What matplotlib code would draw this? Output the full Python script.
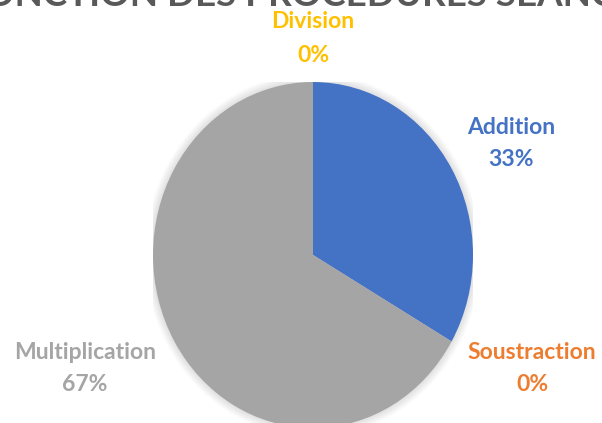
import matplotlib.pyplot as plt
from matplotlib.patches import Ellipse

# Données
categories = ['Addition', 'Soustraction', 'Multiplication', 'Division']
valeurs = [1, 0, 2, 0]
pourcentages = ['33%', '0%', '67%', '0%']
couleurs = ['#4472C4', '#ED7D31', '#A5A5A5', '#FFC000']
titre = 'FONCTION DES PROCEDURES SEANCE'

W, H = 602, 423
fig = plt.figure(figsize=(W / 100, H / 100), dpi=100)

# axe du camembert (ellipse légèrement étirée verticalement)
cx, cy, rx, ry = 313, 255, 160, 173
ax = fig.add_axes([(cx - rx) / W, 1 - (cy + ry) / H, 2 * rx / W, 2 * ry / H])

# ombre douce autour du camembert
for i in range(10):
    r = 1.0 + 0.005 * (10 - i)
    ax.add_patch(Ellipse((0, 0), 2 * r, 2 * r, color='#000000', alpha=0.012, lw=0, zorder=0))

ax.pie(valeurs, colors=couleurs, startangle=90, counterclock=False,
       wedgeprops=dict(linewidth=0), radius=1.0)
ax.set_aspect('auto')
ax.set_xlim(-1, 1)
ax.set_ylim(-1, 1)
ax.axis('off')

# étiquettes (positions en pixels, centre du nom et du pourcentage)
pos_labels = [(511, 128, 160), (532, 352, 384), (85, 352, 384), (313, 21, 55)]
for cat, pct, col, (x, y1, y2) in zip(categories, pourcentages, couleurs, pos_labels):
    fig.text(x / W, 1 - y1 / H, cat, color=col, fontsize=16.5, fontweight='bold',
             family='Lato', ha='center', va='center')
    fig.text(x / W, 1 - y2 / H, pct, color=col, fontsize=16.5, fontweight='bold',
             family='Lato', ha='center', va='center')

# titre (coupé en haut)
fig.text(300 / W, 1 - 6 / H, titre, color='#595959', fontsize=26.5, fontweight='bold',
         family='Lato', ha='center', va='baseline')

fig.savefig('out.png', dpi=100)
